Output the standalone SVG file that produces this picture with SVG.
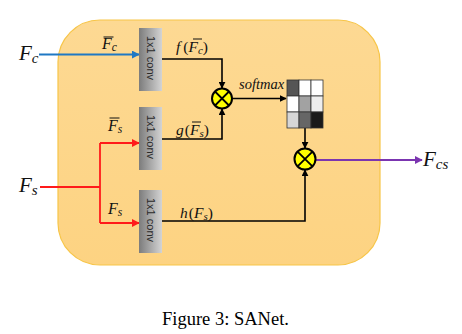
<svg xmlns="http://www.w3.org/2000/svg" width="462" height="334" viewBox="0 0 462 334">
  <style>
    .math { font-family: "Liberation Serif", "DejaVu Serif", serif; font-style: italic; fill: #111; }
    .conv-label { font-family: "Liberation Sans", Arial, sans-serif; font-size: 11px; fill: #2a2a2a; }
    .wire { fill: none; stroke: #000; stroke-width: 1.6; }
    .blue { fill: none; stroke: #1f78c4; stroke-width: 1.8; }
    .red { fill: none; stroke: #ff1a1a; stroke-width: 1.8; }
    .purple { fill: none; stroke: #7b35b0; stroke-width: 1.8; }
    .mult circle { fill: #ffff00; stroke: #000; stroke-width: 2; }
    .mult path { stroke: #000; stroke-width: 1.8; }
    .bar { stroke: #111; stroke-width: 1; }
    .caption { font-family: "Liberation Serif", "Times New Roman", serif; font-size: 18.5px; fill: #000; }
  </style>
  <defs>
    <linearGradient id="convFill" x1="0" y1="0" x2="1" y2="0">
      <stop offset="0" stop-color="#7c7c7c"/>
      <stop offset="1" stop-color="#d4d4d4"/>
    </linearGradient>
    <linearGradient id="panelFill" x1="0" y1="0" x2="0" y2="1">
      <stop offset="0" stop-color="#fdd993"/>
      <stop offset="1" stop-color="#fdd382"/>
    </linearGradient>
    <marker id="arrowBlack" viewBox="0 0 10 10" refX="9" refY="5" markerWidth="7" markerHeight="7" markerUnits="userSpaceOnUse" orient="auto">
      <path d="M0,0 L10,5 L0,10 z" fill="#000"/>
    </marker>
    <marker id="arrowBlue" viewBox="0 0 10 10" refX="9" refY="5" markerWidth="8" markerHeight="8" markerUnits="userSpaceOnUse" orient="auto">
      <path d="M0,0 L10,5 L0,10 z" fill="#1f78c4"/>
    </marker>
    <marker id="arrowRed" viewBox="0 0 10 10" refX="9" refY="5" markerWidth="8" markerHeight="8" markerUnits="userSpaceOnUse" orient="auto">
      <path d="M0,0 L10,5 L0,10 z" fill="#ff1a1a"/>
    </marker>
    <marker id="arrowPurple" viewBox="0 0 10 10" refX="9" refY="5" markerWidth="8" markerHeight="8" markerUnits="userSpaceOnUse" orient="auto">
      <path d="M0,0 L10,5 L0,10 z" fill="#7b35b0"/>
    </marker>
  </defs>

  <!-- attention block panel -->
  <rect id="panel" x="58" y="20" width="322" height="245" rx="42" ry="42" fill="url(#panelFill)" stroke="#f7c548" stroke-width="1.2"/>

  <!-- connectors -->
  <g id="connectors">
    <path class="blue" d="M39,54.5 H139" marker-end="url(#arrowBlue)"/>
    <path class="red" d="M40,187 H100"/>
    <path class="red" d="M100,143 V223"/>
    <path class="red" d="M100,143 H139" marker-end="url(#arrowRed)"/>
    <path class="red" d="M100,223 H139" marker-end="url(#arrowRed)"/>
    <path class="wire" d="M162,59 H222 V88" marker-end="url(#arrowBlack)"/>
    <path class="wire" d="M162,139 H222 V109" marker-end="url(#arrowBlack)"/>
    <path class="wire" d="M232,98.5 H286" marker-end="url(#arrowBlack)"/>
    <path class="wire" d="M305,128 V148" marker-end="url(#arrowBlack)"/>
    <path class="wire" d="M162,221 H305 V170" marker-end="url(#arrowBlack)"/>
    <path class="purple" d="M316,160 H422" marker-end="url(#arrowPurple)"/>
  </g>

  <!-- 1x1 convolutions -->
  <g id="conv-f">
    <rect x="139" y="28" width="23" height="63" fill="url(#convFill)"/>
    <text class="conv-label" transform="translate(147,58) rotate(90)" text-anchor="middle">1x1 conv</text>
  </g>
  <g id="conv-g">
    <rect x="139" y="107" width="23" height="63" fill="url(#convFill)"/>
    <text class="conv-label" transform="translate(147,137) rotate(90)" text-anchor="middle">1x1 conv</text>
  </g>
  <g id="conv-h">
    <rect x="139" y="190" width="23" height="63" fill="url(#convFill)"/>
    <text class="conv-label" transform="translate(147,220) rotate(90)" text-anchor="middle">1x1 conv</text>
  </g>

  <!-- element-wise products -->
  <g id="mult-fg" class="mult">
    <circle cx="222" cy="98.5" r="10"/>
    <path d="M215,91.5 L229,105.5 M229,91.5 L215,105.5"/>
  </g>
  <g id="mult-out" class="mult">
    <circle cx="305" cy="159" r="10.5"/>
    <path d="M297.8,151.8 L312.2,166.2 M312.2,151.8 L297.8,166.2"/>
  </g>

  <!-- attention map -->
  <g id="attention-map" stroke="#333" stroke-width="0.8">
    <rect x="287" y="80" width="12" height="16" fill="#555"/>
    <rect x="299" y="80" width="12" height="16" fill="#fff"/>
    <rect x="311" y="80" width="12" height="16" fill="#fff"/>
    <rect x="287" y="96" width="12" height="16" fill="#fff"/>
    <rect x="299" y="96" width="12" height="16" fill="#a2a2a2"/>
    <rect x="311" y="96" width="12" height="16" fill="#eeeeee"/>
    <rect x="287" y="112" width="12" height="16" fill="#d6d6d6"/>
    <rect x="299" y="112" width="12" height="16" fill="#666"/>
    <rect x="311" y="112" width="12" height="16" fill="#1a1a1a"/>
  </g>

  <!-- inputs and outputs -->
  <g id="input-fc">
    <text class="math" x="19" y="60" font-size="21">F<tspan font-size="15" dy="3">c</tspan></text>
  </g>
  <g id="input-fs">
    <text class="math" x="19" y="192" font-size="21">F<tspan font-size="15" dy="3">s</tspan></text>
  </g>
  <g id="output-fcs">
    <text class="math" x="423" y="166" font-size="21">F<tspan font-size="15" dy="3">cs</tspan></text>
  </g>

  <!-- edge labels -->
  <g id="labels">
    <text class="math" x="102" y="49" font-size="16">F<tspan font-size="11.5" dy="2">c</tspan></text>
    <line class="bar" x1="103.5" y1="37" x2="113.5" y2="37"/>

    <text class="math" x="108" y="131" font-size="16">F<tspan font-size="11.5" dy="2">s</tspan></text>
    <line class="bar" x1="109.5" y1="118" x2="119.5" y2="118"/>

    <text class="math" x="108" y="214" font-size="16">F<tspan font-size="11.5" dy="2">s</tspan></text>

    <text class="math" x="176" y="52" font-size="15.5">f<tspan font-style="normal" dx="3">(</tspan>F<tspan font-size="11" dy="2">c</tspan><tspan font-style="normal" dy="-2">)</tspan></text>
    <line class="bar" x1="193" y1="39" x2="202" y2="39"/>

    <text class="math" x="176" y="135" font-size="15.5">g<tspan font-style="normal" dx="1">(</tspan>F<tspan font-size="11" dy="2">s</tspan><tspan font-style="normal" dy="-2">)</tspan></text>
    <line class="bar" x1="192" y1="122" x2="201" y2="122"/>

    <text class="math" x="180" y="218" font-size="15.5">h<tspan font-style="normal" dx="1">(</tspan>F<tspan font-size="11" dy="2">s</tspan><tspan font-style="normal" dy="-2">)</tspan></text>

    <text class="math" x="239" y="89" font-size="14.5">softmax</text>
  </g>

  <text class="caption" x="162" y="325">Figure 3: SANet.</text>
</svg>
